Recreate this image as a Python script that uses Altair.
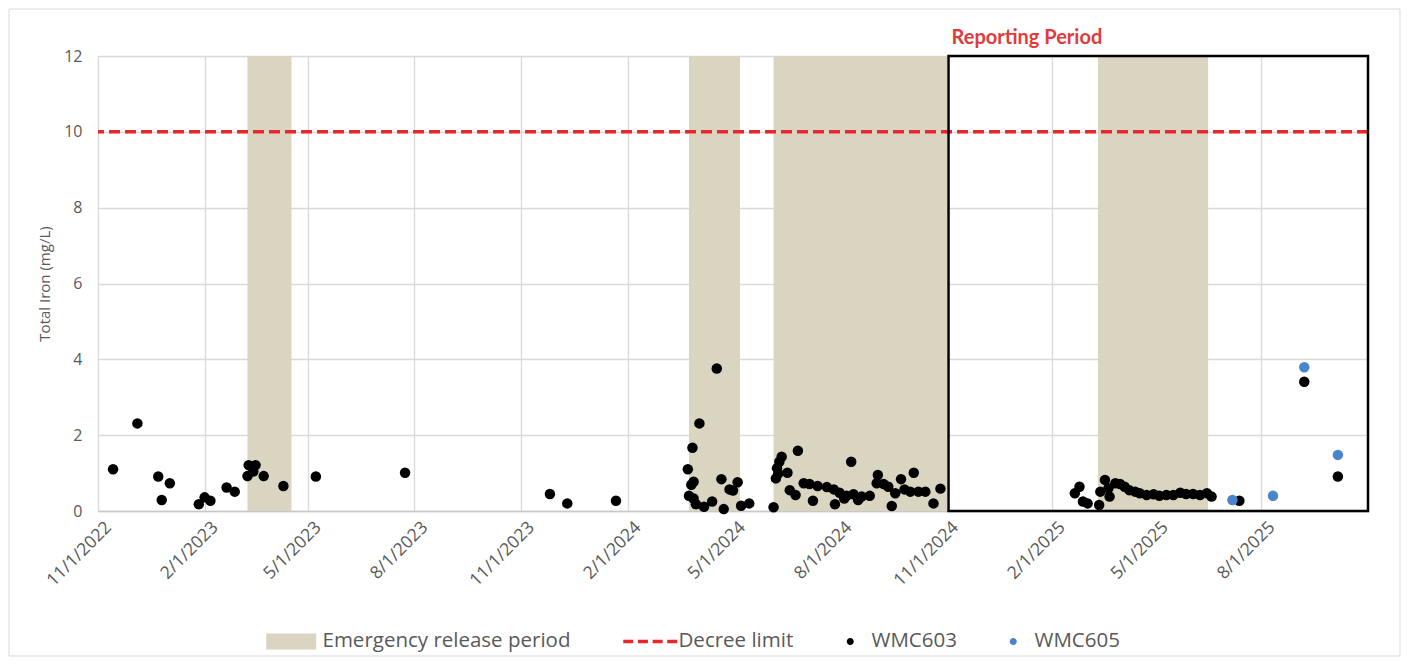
import altair as alt
import pandas as pd

# ---------------- data ----------------
wmc603_dates = [
    "2022-11-14", "2022-12-05", "2022-12-23", "2022-12-26", "2023-01-02",
    "2023-01-27", "2023-02-01", "2023-02-06", "2023-02-20", "2023-02-27",
    "2023-03-10", "2023-03-11", "2023-03-15", "2023-03-17", "2023-03-24",
    "2023-04-10", "2023-05-08", "2023-07-24", "2023-11-26", "2023-12-11",
    "2024-01-22", "2024-03-24", "2024-03-25", "2024-03-27", "2024-03-28",
    "2024-03-29", "2024-03-29", "2024-03-31", "2024-04-03", "2024-04-07",
    "2024-04-14", "2024-04-18", "2024-04-22", "2024-04-24", "2024-04-29",
    "2024-05-02", "2024-05-06", "2024-05-09", "2024-05-16", "2024-06-06",
    "2024-06-08", "2024-06-09", "2024-06-10", "2024-06-11", "2024-06-13",
    "2024-06-18", "2024-06-20", "2024-06-25", "2024-06-27", "2024-07-02",
    "2024-07-07", "2024-07-10", "2024-07-14", "2024-07-22", "2024-07-28",
    "2024-07-29", "2024-08-02", "2024-08-06", "2024-08-08", "2024-08-12",
    "2024-08-14", "2024-08-18", "2024-08-21", "2024-08-28", "2024-09-03",
    "2024-09-04", "2024-09-09", "2024-09-13", "2024-09-16", "2024-09-19",
    "2024-09-24", "2024-09-27", "2024-10-02", "2024-10-05", "2024-10-09",
    "2024-10-15", "2024-10-22", "2024-10-28",
    "2025-02-21", "2025-02-25", "2025-02-28", "2025-03-04", "2025-03-14",
    "2025-03-15", "2025-03-19", "2025-03-22", "2025-03-23", "2025-03-28",
    "2025-04-01", "2025-04-05", "2025-04-09", "2025-04-14", "2025-04-18",
    "2025-04-24", "2025-04-30", "2025-05-05", "2025-05-11", "2025-05-17",
    "2025-05-23", "2025-05-28", "2025-06-03", "2025-06-09", "2025-06-15",
    "2025-06-19", "2025-07-13", "2025-09-07", "2025-10-06",
]
wmc603_values = [
    1.10, 2.31, 0.91, 0.29, 0.73,
    0.18, 0.36, 0.27, 0.62, 0.51,
    0.92, 1.21, 1.04, 1.21, 0.92,
    0.66, 0.91, 1.01, 0.45, 0.20,
    0.27, 1.10, 0.40, 0.69, 1.67,
    0.77, 0.33, 0.18, 2.31, 0.11,
    0.25, 3.76, 0.84, 0.05, 0.57,
    0.54, 0.76, 0.14, 0.20, 0.10,
    0.86, 1.13, 0.99, 1.30, 1.43,
    1.01, 0.55, 0.42, 1.59, 0.73,
    0.71, 0.27, 0.66, 0.63, 0.57,
    0.18, 0.48, 0.33, 0.40, 1.30,
    0.44, 0.29, 0.38, 0.40, 0.73,
    0.95, 0.71, 0.64, 0.13, 0.47,
    0.84, 0.57, 0.51, 1.01, 0.51,
    0.51, 0.20, 0.59,
    0.47, 0.64, 0.25, 0.20, 0.16,
    0.51, 0.82, 0.60, 0.38, 0.73,
    0.71, 0.64, 0.55, 0.51, 0.47,
    0.42, 0.44, 0.40, 0.42, 0.42,
    0.48, 0.45, 0.45, 0.42, 0.47,
    0.38, 0.27, 3.41, 0.91,
]
wmc605_dates = ["2025-07-07", "2025-08-11", "2025-09-07", "2025-10-06"]
wmc605_values = [0.29, 0.40, 3.79, 1.48]

release_starts = ["2023-03-10", "2024-03-25", "2024-06-06", "2025-03-13"]
release_ends = ["2023-04-17", "2024-05-08", "2024-11-03", "2025-06-16"]

reporting_start = "2024-11-04"
reporting_end = "2025-11-01"
reporting_label = "Reporting Period"

decree_limit = 10

x_domain = ["2022-11-01", "2025-11-01"]
x_tick_dates = [
    "2022-11-01", "2023-02-01", "2023-05-01", "2023-08-01", "2023-11-01",
    "2024-02-01", "2024-05-01", "2024-08-01", "2024-11-01", "2025-02-01",
    "2025-05-01", "2025-08-01",
]
y_ticks = [0, 2, 4, 6, 8, 10, 12]

legend_items = ["Emergency release period", "Decree limit", "WMC603", "WMC605"]
legend_colors = ["#d9d5c1", "#e8262b", "#000000", "#4a84cc"]
series_names = ["WMC603", "WMC605"]
series_colors = ["#000000", "#4a84cc"]

# ---------------- tables ----------------
points = pd.DataFrame({
    "date": wmc603_dates + wmc605_dates,
    "iron": wmc603_values + wmc605_values,
    "series": ["WMC603"] * len(wmc603_dates) + ["WMC605"] * len(wmc605_dates),
})
bands = pd.DataFrame({"start": release_starts, "end": release_ends})
reporting = pd.DataFrame({"start": [reporting_start], "end": [reporting_end],
                          "label": [reporting_label], "top": [y_ticks[-1]]})
limit = pd.DataFrame({"limit": [decree_limit]})
legend_df = pd.DataFrame({"item": legend_items})


def dt(s):
    y, m, d = (int(v) for v in s.split("-"))
    return alt.DateTime(year=y, month=m, date=d, utc=True)


AXIS_FONT = "Open Sans"
LEGEND_FONT = "Open Sans"
GREY = "#595959"

xscale = alt.Scale(type="utc", domain=[dt(x_domain[0]), dt(x_domain[1])])
xaxis = alt.Axis(
    values=[dt(s) for s in x_tick_dates],
    labelExpr="utcFormat(datum.value, '%-m/%-d/%Y')",
    title=None, labelAngle=315, labelFont=AXIS_FONT, labelFontSize=17.5,
    labelColor=GREY, grid=True, gridColor="#d9d9d9", gridWidth=1.3,
    domainColor="#c8c8c8", domainWidth=1.3, ticks=False, labelPadding=7,
    labelOffset=4, labelOverlap=False, labelBound=False,
)
yscale = alt.Scale(domain=[0, 12], nice=False, zero=True)
yaxis = alt.Axis(
    values=y_ticks, title="Total Iron (mg/L)", titleFont=AXIS_FONT,
    titleFontSize=15, titleFontWeight="normal", titleColor=GREY,
    titlePadding=11, labelFont=AXIS_FONT, labelFontSize=16, labelColor=GREY,
    labelPadding=16, grid=True, gridColor="#d9d9d9", gridWidth=1.3,
    domain=False, ticks=False,
)

band_layer = alt.Chart(bands).mark_rect(color="#d9d5c1").encode(
    x=alt.X("start:T", scale=xscale, axis=xaxis),
    x2="end:T",
)

limit_layer = alt.Chart(limit).mark_rule(
    color="#e8262b", strokeWidth=3.5, strokeDash=[11, 5]
).encode(y=alt.Y("limit:Q", scale=yscale, axis=yaxis))

point_layer = alt.Chart(points).mark_circle(size=110, opacity=1).encode(
    x=alt.X("date:T", scale=xscale, axis=xaxis),
    y=alt.Y("iron:Q", scale=yscale, axis=yaxis),
    color=alt.Color("series:N", scale=alt.Scale(domain=series_names, range=series_colors),
                    legend=None),
)

box_layer = alt.Chart(reporting).mark_rect(
    fill="transparent", stroke="#000000", strokeWidth=2.5
).encode(
    x=alt.X("start:T", scale=xscale, axis=xaxis),
    x2="end:T",
)

label_layer = alt.Chart(reporting).mark_text(
    align="left", baseline="alphabetic", dx=3, dy=-12, fontSize=20,
    fontWeight="bold", color="#e23b3b", font="Lato",
).encode(
    x=alt.X("start:T", scale=xscale, axis=xaxis),
    y=alt.Y("top:Q", scale=yscale, axis=yaxis),
    text="label:N",
)

# legend symbols (custom paths; 1 unit = 5 px at symbolSize 100)
rect_path = "M-8.6,-1.6H1.4V1.6H-8.6Z"
dash_path = ("M-8.4,-0.35H-6.4V0.35H-8.4Z M-5.47,-0.35H-3.47V0.35H-5.47Z "
             "M-2.53,-0.35H-0.53V0.35H-2.53Z M0.4,-0.35H2.4V0.35H0.4Z")
dot_path = "M-0.9,0A0.7,0.7,0,1,1,-2.3,0A0.7,0.7,0,1,1,-0.9,0Z"
legend_shapes = [rect_path, dash_path, dot_path, dot_path]

legend_spec = alt.Legend(
    title=None, orient="none", legendX=201, legendY=575, direction="horizontal",
    columns=4, symbolSize=100, symbolStrokeWidth=0, symbolOpacity=1,
    labelFont=LEGEND_FONT, labelFontSize=20.5, labelColor=GREY, labelLimit=0,
    labelOffset=3, columnPadding=52, padding=0,
)
legend_layer = alt.Chart(legend_df).mark_point(filled=True, opacity=0).encode(
    color=alt.Color("item:N", scale=alt.Scale(domain=legend_items, range=legend_colors),
                    legend=legend_spec),
    shape=alt.Shape("item:N", scale=alt.Scale(domain=legend_items, range=legend_shapes),
                    legend=legend_spec),
)

frame_layer = alt.Chart(pd.DataFrame({"f": [0]})).mark_rect(
    fill="transparent", stroke="#d9d9d9", strokeWidth=1
).encode(x=alt.value(-89), x2=alt.value(1302), y=alt.value(-47), y2=alt.value(600))

chart = alt.layer(
    frame_layer, band_layer, limit_layer, box_layer, point_layer, label_layer, legend_layer
).resolve_scale(
    color="independent", shape="independent"
).properties(
    width=1270, height=455, autosize="none",
    padding={"left": 90, "top": 48, "right": 34, "bottom": 146},
).configure_view(strokeWidth=0).configure(background="#ffffff")

chart.save("out.html", embed_options={"renderer": "svg", "actions": False})
